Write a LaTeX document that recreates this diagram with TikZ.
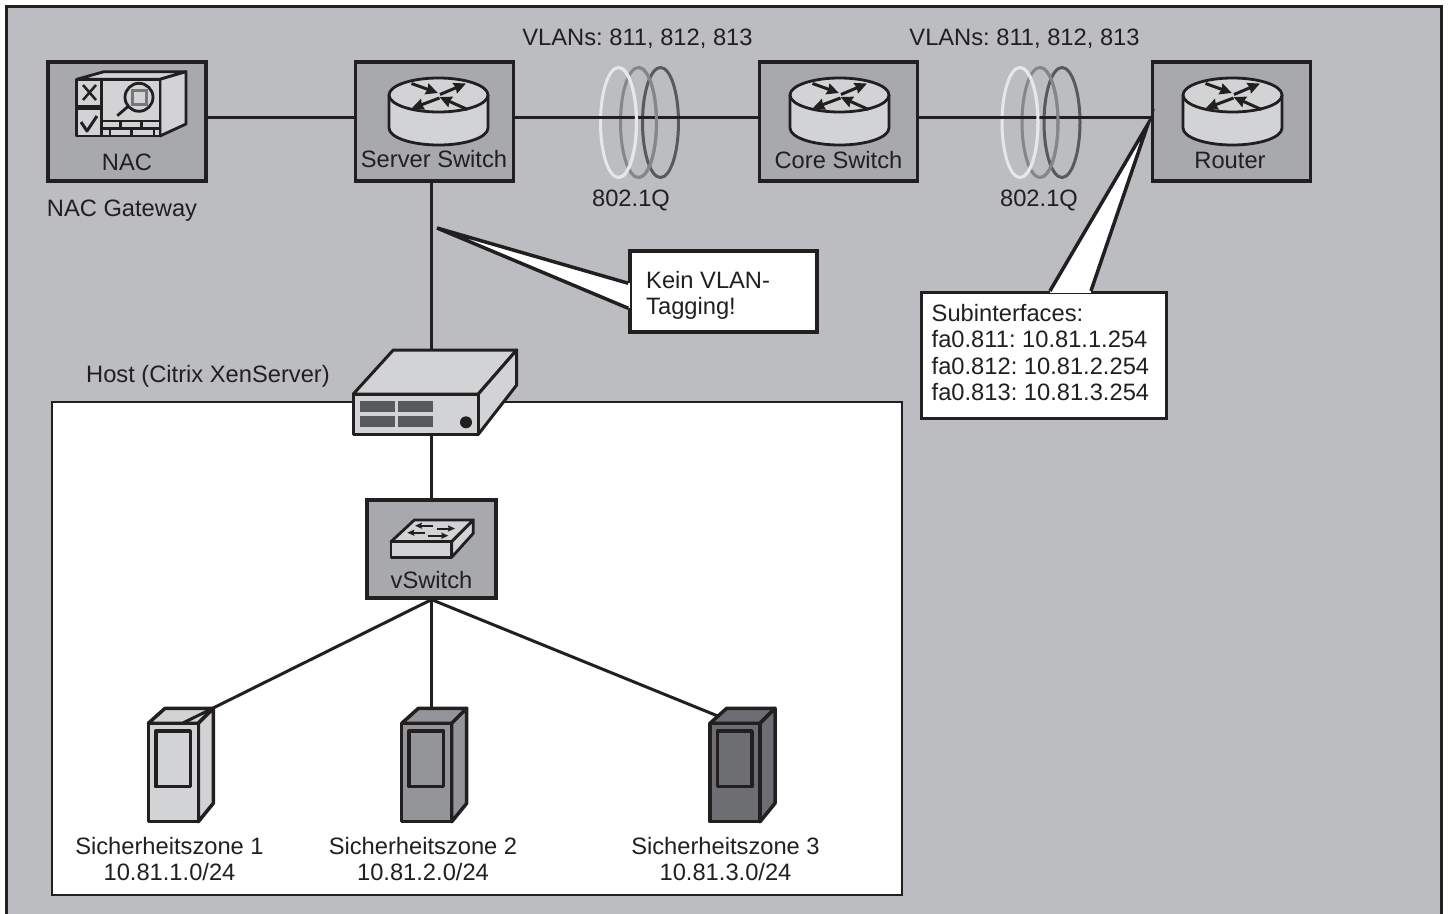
\documentclass[tikz,border=0pt]{standalone}
\usepackage{fontspec}
\setmainfont{Liberation Sans}
\usetikzlibrary{arrows.meta}
\usetikzlibrary{calc}

\definecolor{framegray}{HTML}{BBBDC0}
\definecolor{boxgray}{HTML}{A7A9AC}
\definecolor{icongray}{HTML}{D1D3D4}
\definecolor{midgray}{HTML}{939598}
\definecolor{darkgray}{HTML}{6D6E71}
\definecolor{portgray}{HTML}{58595B}
\definecolor{ringwhite}{HTML}{E6E7E8}
\definecolor{inkblack}{HTML}{231F20}

\tikzset{
	devbox/.style={draw=inkblack, fill=boxgray, line width=3.5pt, inner sep=0pt},
	conn/.style={draw=inkblack, line width=3pt},
	icon/.style={draw=inkblack, fill=icongray, line width=2.8pt, line join=round},
	label/.style={inner sep=0pt, text=inkblack, anchor=base, font=\fontsize{23.7}{26.2}\selectfont\frenchspacing},
	note/.style={draw=inkblack, fill=white, line width=3.5pt, inner sep=0pt},
	notetext/.style={inner sep=0pt, text=inkblack, align=left, anchor=west, font=\fontsize{23.7}{26.2}\selectfont\frenchspacing},
	rarrow/.style={draw=inkblack, line width=3pt, -{Stealth[length=12pt,width=11pt,inset=1pt]}},
	sarrow/.style={draw=inkblack, line width=2pt, -{Stealth[length=7pt,width=6pt,inset=1pt]}},
	ring/.style={line width=3pt}
}

\begin{document}
\begin{tikzpicture}[x=1pt, y=-1pt]

	\useasboundingbox (0,0) rectangle (1448,913);
	\clip (0,0) rectangle (1448,913);

	\draw[draw=inkblack, fill=framegray, line width=3pt] (6.5,6) rectangle (1441,925);
	\node[draw=inkblack, fill=white, line width=2.5pt, inner sep=0pt, minimum width=850pt, minimum height=493pt] (hostzone) at (477,648.5) {};

	% boxes of the top row
	\foreach \x/\w/\name in {127/158/nac, 434.5/158/srvsw, 838.5/158/coresw, 1231.5/158/router} {
		\node[devbox, minimum width=\w pt, minimum height=119pt] (\name) at (\x,121.5) {};
	}
	\node[devbox, line width=3.2pt, minimum width=129pt, minimum height=98pt] (vsw) at (431.5,549) {};
	\node[inner sep=0pt, minimum width=125pt, minimum height=40pt] (hostfront) at (415.8,414) {};

	\foreach \x/\name in {173/sz1, 426.5/sz2, 735/sz3} {
		\coordinate (\name) at (\x,723);
	}

	% rings
	\foreach \dx in {0, 401.5} {
		\draw[ring, draw=portgray] (660.5+\dx,122.5) ellipse (18 and 55);
		\draw[ring, draw=midgray!90!black] (638.5+\dx,122.5) ellipse (18 and 55);
		\draw[ring, draw=ringwhite] (618.5+\dx,122.5) ellipse (18 and 55);
	}

	% connectors
	\draw[conn] ([yshift=4.5pt]nac.east) -- ([yshift=4.5pt]srvsw.west);
	\draw[conn] ([yshift=4.5pt]srvsw.east) -- ([yshift=4.5pt]coresw.west);
	\draw[conn] ([yshift=4.5pt]coresw.east) -- ([yshift=4.5pt]router.west);
	\draw[conn] (vsw.north |- srvsw.south) -- (vsw.north |- hostfront.north);
	\draw[conn] (vsw.north |- hostfront.south) -- (vsw.north);
	\draw[conn] (vsw.south) -- (vsw.south |- sz2);
	\draw[conn] (vsw.south) -- (sz3);

	\foreach \dx in {0, 401.5} {
		\draw[ring, draw=midgray!90!black] (638.5+\dx,67.5) arc[start angle=-90, end angle=90, x radius=18, y radius=55];
		\draw[ring, draw=ringwhite] (618.5+\dx,67.5) arc[start angle=-90, end angle=90, x radius=18, y radius=55];
	}

	% router icons
	\foreach \x in {438.5, 839.5, 1232.5} {
		\begin{scope}[shift={(\x-438.5,0)}]
			\draw[icon] (389,95) -- (389,128) arc[start angle=180, end angle=0, x radius=49.5, y radius=17] -- (488,95);
			\draw[icon] (438.5,95) ellipse (49.5 and 17);
			\draw[rarrow] (411.5,83.5) -- (438,93);
			\draw[rarrow] (440,94.5) -- (466,83.5);
			\draw[rarrow] (439.5,98) -- (411.5,108.5);
			\draw[rarrow] (467.5,109.5) -- (439.5,97);
		\end{scope}
	}

	% NAC icon
	\draw[icon] (76.7,79.3) -- (104,71.7) -- (186,71.7) -- (160,79.3) -- cycle;
	\draw[icon] (160,79.3) -- (186,71.7) -- (186,124) -- (160,136) -- cycle;
	\draw[icon] (76.7,79.3) rectangle (160,136);
	\draw[icon, fill=none] (101.7,79.3) -- (101.7,136);
	\draw[icon, fill=none] (76.7,106) -- (101.7,106) (76.7,108.5) -- (101.7,108.5);
	\draw[icon, fill=none, line width=2.5pt] (83,85) -- (96,100) (96,85) -- (83,100);
	\draw[icon, fill=none, line width=3pt] (81,122) -- (87,131) -- (97,116);
	\draw[icon, fill=none] (101.7,121) -- (160,121) (101.7,128.3) -- (160,128.3);
	\foreach \x in {120.7, 141.7} {
		\draw[icon, fill=none] (\x,121) -- (\x,128.3);
	}
	\foreach \x in {110, 131.7, 154} {
		\draw[icon, fill=none] (\x,128.3) -- (\x,136);
	}
	\draw[icon] (139,97.3) circle (14);
	\draw[draw=midgray!80!black, line width=3pt] (132,90.5) rectangle (146,104);
	\draw[icon, fill=none] (117.3,115.7) -- (128,106.5);

	% host
	\draw[icon, line width=3pt] (353.3,394) -- (393.3,350) -- (516.7,350) -- (478.3,394) -- cycle;
	\draw[icon, line width=3pt] (478.3,394) -- (516.7,350) -- (516.7,385) -- (478.3,434.3) -- cycle;
	\draw[icon, line width=3pt] (353.3,394) rectangle (478.3,434.3);
	\foreach \x/\y in {360/401, 398.3/401, 360/416, 398.3/416} {
		\fill[portgray] (\x,\y) rectangle (\x+34.7,\y+10.7);
	}
	\fill[inkblack] (466,422.3) circle (6);

	% vSwitch icon
	\draw[icon] (391,541.7) -- (414.3,520) -- (473.3,520) -- (451.7,541.7) -- cycle;
	\draw[icon] (451.7,541.7) -- (473.3,520) -- (473.3,533.3) -- (451.7,557.3) -- cycle;
	\draw[icon] (391,541.7) rectangle (451.7,557.3);
	\draw[sarrow] (433,525.7) -- (415,525.7);
	\draw[sarrow] (436.7,528.5) -- (455,528.5);
	\draw[sarrow] (425,532.7) -- (407.3,532.7);
	\draw[sarrow] (428.3,535.7) -- (448.3,535.7);

	% servers
	\foreach \x/\col/\name in {148.3/icongray/sz1, 401.7/midgray/sz2, 710/darkgray/sz3} {
		\begin{scope}[shift={(\x,0)}]
			\draw[icon, fill=\col, line width=3.5pt] (0,723.3) -- (16.7,708.3) -- (65,708.3) -- (50,723.3) -- cycle;
			\draw[icon, fill=\col, line width=3.5pt] (50,723.3) -- (65,708.3) -- (65,803.3) -- (50,821.7) -- cycle;
			\draw[icon, fill=\col, line width=3.5pt] (0,723.3) rectangle (50,821.7);
			\draw[icon, fill=\col, line width=3.5pt] (7.5,731) rectangle (42,786.7);
		\end{scope}
	}
	\draw[conn] (vsw.south) -- ([xshift=10pt]sz1);

	% callouts
	\node[note, minimum width=187pt, minimum height=81pt] (kein) at (723.5,291.5) {};
	\coordinate (keintip) at (437,228);
	\fill[white] (keintip) -- ([yshift=-34pt]kein.north west) -- ([yshift=-59pt]kein.north west) -- cycle;
	\draw[draw=white, line width=4pt] ([yshift=-34pt]kein.north west) -- ([yshift=-59pt]kein.north west);
	\draw[draw=inkblack, line width=3.5pt] ([yshift=-34pt]kein.north west) -- (keintip) -- ([yshift=-59pt]kein.north west);
	\node[notetext] (keintxt) at (646,295.5) {Kein VLAN-\\Tagging!};

	\node[note, minimum width=245pt, minimum height=125.6pt] (subif) at (1044.2,355.5) {};
	\coordinate (subtip) at (1148,124);
	\fill[white] (subtip) -- ([xshift=130pt]subif.north west) -- ([xshift=171pt]subif.north west) -- cycle;
	\draw[draw=white, line width=4pt] ([xshift=130pt]subif.north west) -- ([xshift=171pt]subif.north west);
	\draw[draw=inkblack, line width=3.5pt] ([xshift=130pt]subif.north west) -- (subtip) -- ([xshift=171pt]subif.north west);
	\node[notetext] (subtxt) at (931.5,352.5) {Subinterfaces:\\fa0.811: 10.81.1.254\\fa0.812: 10.81.2.254\\fa0.813: 10.81.3.254};

	% texts
	\foreach \x/\y/\txt/\name in {127/170/NAC/lblnac, 434/167.5/Server Switch/lblsrv, 838.5/168/Core Switch/lblcore, 1230/168/Router/lblrouter, 637.5/45/{VLANs: 811, 812, 813}/lblvlana, 1024.5/45/{VLANs: 811, 812, 813}/lblvlanb, 631/206.7/802.1Q/lbldota, 1039/206.7/802.1Q/lbldotb, 122/216/NAC Gateway/lblgw, 208/382/Host (Citrix XenServer)/lblhost, 431.5/588/vSwitch/lblvsw, 169.5/854/Sicherheitszone 1/lblza, 423/854/Sicherheitszone 2/lblzb, 725.5/854/Sicherheitszone 3/lblzc, 169.5/880/10.81.1.0\slash 24/lblna, 423/880/10.81.2.0\slash 24/lblnb, 725.5/880/10.81.3.0\slash 24/lblnc} {
		\node[label] (\name) at (\x,\y) {\txt};
	}

\end{tikzpicture}
\end{document}
